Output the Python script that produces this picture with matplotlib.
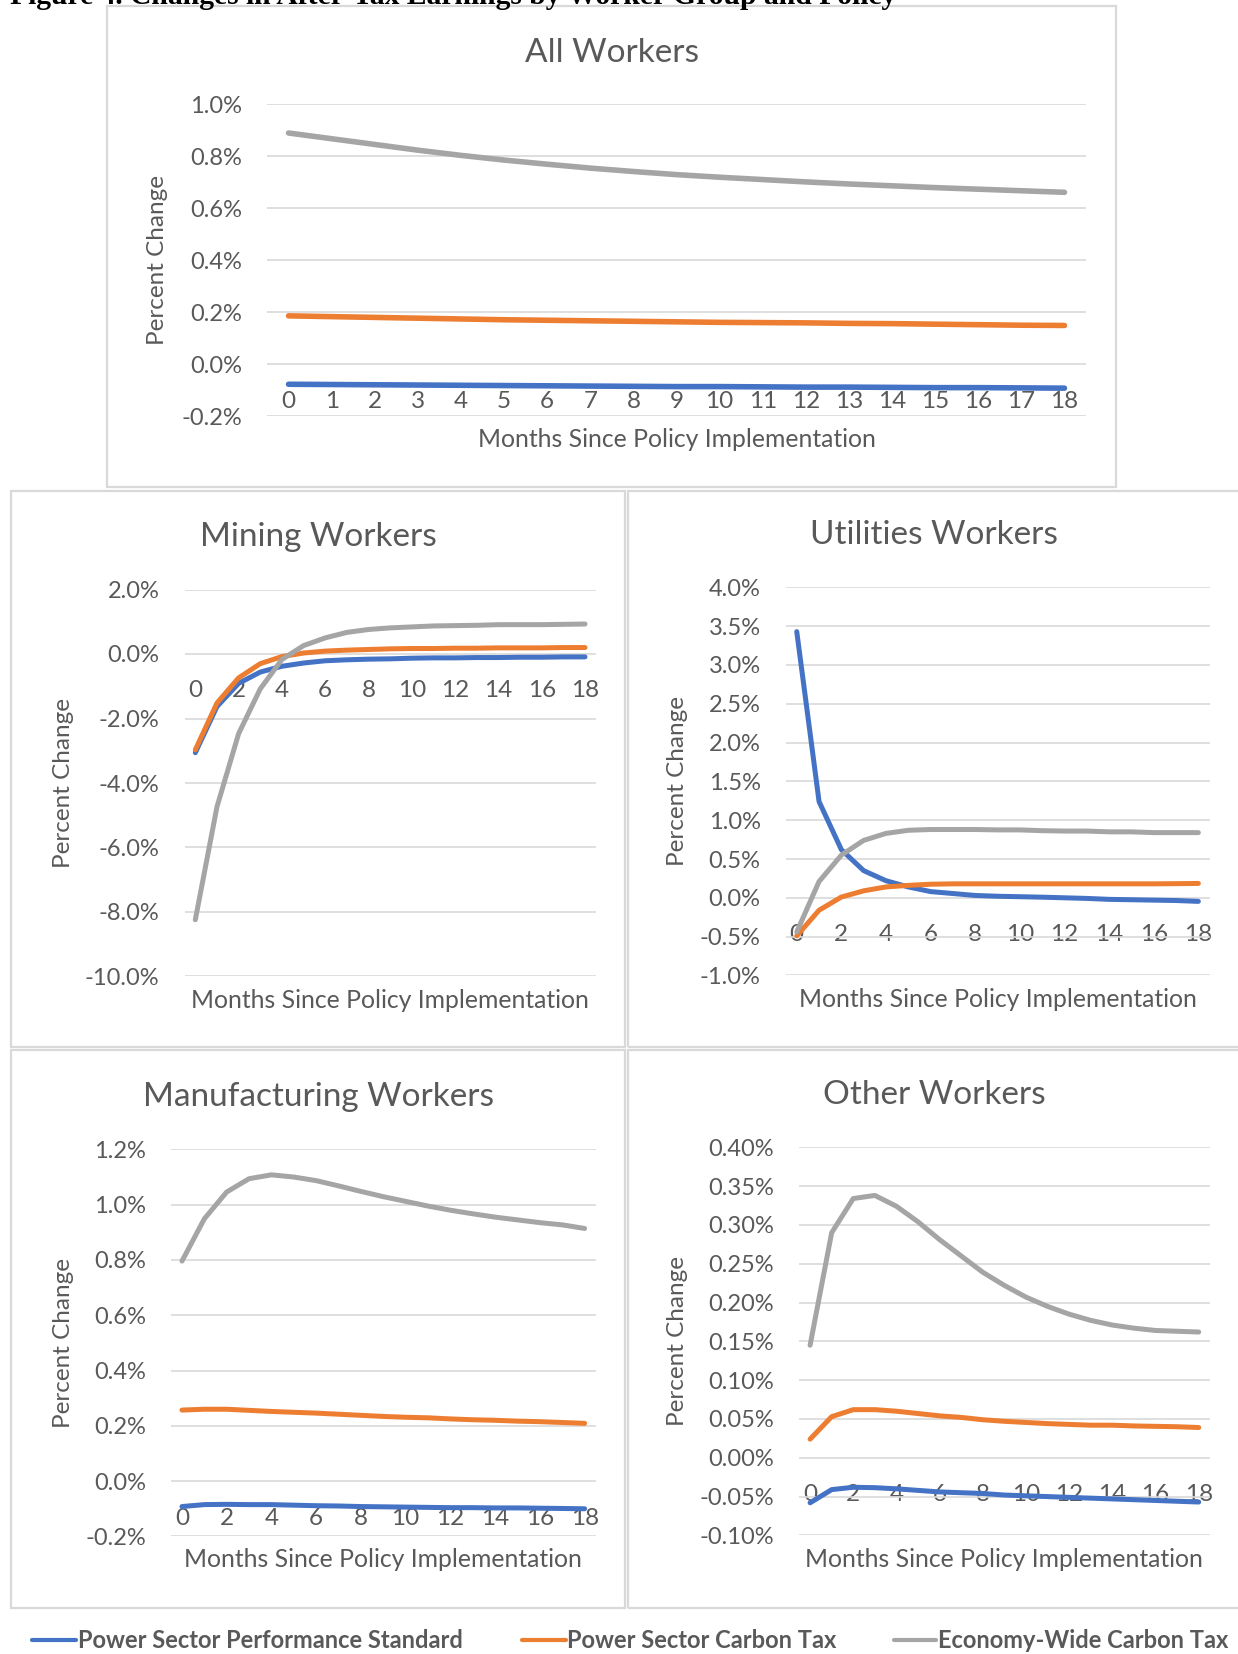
import matplotlib
matplotlib.use("Agg")
import matplotlib.pyplot as plt
from matplotlib.lines import Line2D
from matplotlib.patches import Rectangle
from matplotlib.ticker import FuncFormatter, FixedLocator

plt.rcParams['font.family'] = ['Lato', 'DejaVu Sans']

W, H = 1238, 1654

months = list(range(19))
series_names = ["Power Sector Performance Standard", "Power Sector Carbon Tax", "Economy-Wide Carbon Tax"]
colors = ["#4472C4", "#ED7D31", "#A5A5A5"]

# ---- data (percent change) ----
all_pps = [-0.076, -0.077, -0.078, -0.079, -0.080, -0.081, -0.082, -0.083, -0.084, -0.085,
           -0.085, -0.086, -0.087, -0.087, -0.088, -0.089, -0.089, -0.090, -0.091]
all_pct = [0.187, 0.184, 0.181, 0.178, 0.175, 0.172, 0.170, 0.168, 0.166, 0.164,
           0.162, 0.161, 0.160, 0.158, 0.157, 0.155, 0.153, 0.151, 0.150]
all_ewt = [0.890, 0.868, 0.846, 0.824, 0.804, 0.786, 0.770, 0.755, 0.742, 0.730,
           0.720, 0.711, 0.702, 0.694, 0.687, 0.680, 0.674, 0.668, 0.662]

mining_pps = [-3.06, -1.63, -0.91, -0.56, -0.38, -0.28, -0.21, -0.18, -0.16, -0.15,
              -0.13, -0.12, -0.12, -0.11, -0.11, -0.10, -0.10, -0.09, -0.09]
mining_pct = [-2.97, -1.52, -0.74, -0.30, -0.08, 0.03, 0.09, 0.12, 0.14, 0.16,
              0.17, 0.17, 0.18, 0.18, 0.19, 0.19, 0.19, 0.20, 0.20]
mining_ewt = [-8.24, -4.74, -2.47, -1.08, -0.17, 0.26, 0.50, 0.67, 0.76, 0.81,
              0.84, 0.87, 0.88, 0.89, 0.91, 0.91, 0.91, 0.92, 0.93]

util_pps = [3.43, 1.24, 0.62, 0.35, 0.22, 0.14, 0.08, 0.055, 0.03, 0.02,
            0.014, 0.008, 0.0, -0.008, -0.02, -0.025, -0.03, -0.035, -0.046]
util_pct = [-0.49, -0.16, 0.01, 0.09, 0.14, 0.16, 0.175, 0.18, 0.18, 0.18,
            0.18, 0.18, 0.18, 0.18, 0.18, 0.18, 0.18, 0.182, 0.185]
util_ewt = [-0.44, 0.21, 0.55, 0.74, 0.83, 0.87, 0.88, 0.88, 0.88, 0.875,
            0.875, 0.865, 0.86, 0.86, 0.85, 0.85, 0.84, 0.84, 0.84]

manu_pps = [-0.092, -0.085, -0.084, -0.085, -0.085, -0.087, -0.089, -0.090, -0.092, -0.093,
            -0.094, -0.095, -0.096, -0.096, -0.097, -0.097, -0.098, -0.099, -0.100]
manu_pct = [0.257, 0.260, 0.260, 0.256, 0.252, 0.249, 0.246, 0.242, 0.238, 0.234,
            0.231, 0.229, 0.225, 0.222, 0.220, 0.217, 0.215, 0.212, 0.209]
manu_ewt = [0.796, 0.949, 1.046, 1.094, 1.108, 1.100, 1.087, 1.068, 1.048, 1.029,
            1.012, 0.995, 0.980, 0.967, 0.955, 0.945, 0.935, 0.927, 0.914]

other_pps = [-0.058, -0.041, -0.038, -0.0385, -0.040, -0.042, -0.044, -0.045, -0.046, -0.048,
             -0.049, -0.050, -0.051, -0.052, -0.053, -0.054, -0.055, -0.056, -0.057]
other_pct = [0.024, 0.053, 0.062, 0.062, 0.060, 0.057, 0.054, 0.052, 0.049, 0.047,
             0.0455, 0.044, 0.043, 0.042, 0.042, 0.041, 0.0405, 0.040, 0.039]
other_ewt = [0.145, 0.290, 0.334, 0.338, 0.324, 0.304, 0.281, 0.260, 0.239, 0.222,
             0.207, 0.195, 0.185, 0.177, 0.171, 0.167, 0.164, 0.163, 0.162]

all_yticks = [-0.2, 0.0, 0.2, 0.4, 0.6, 0.8, 1.0]
mining_yticks = [-10, -8, -6, -4, -2, 0, 2]
util_yticks = [-1.0, -0.5, 0.0, 0.5, 1.0, 1.5, 2.0, 2.5, 3.0, 3.5, 4.0]
manu_yticks = [-0.2, 0.0, 0.2, 0.4, 0.6, 0.8, 1.0, 1.2]
other_yticks = [-0.10, -0.05, 0.00, 0.05, 0.10, 0.15, 0.20, 0.25, 0.30, 0.35, 0.40]

TXT = "#595959"
GRID = "#D9D9D9"

fig = plt.figure(figsize=(W / 100, H / 100), dpi=100)
fig.patch.set_facecolor("white")


def fx(px):
    return px / W


def fy(py):
    return 1 - py / H


def box(x0, y0, x1, y1):
    r = Rectangle((fx(x0), fy(y1)), fx(x1) - fx(x0), fy(y0) - fy(y1),
                  transform=fig.transFigure, facecolor="none", edgecolor=GRID, lw=1.6)
    fig.add_artist(r)


# panel borders
box(106.5, 6.5, 1115.5, 487)
box(10.5, 490.5, 625, 1047)
box(627.5, 490.5, 1250, 1047)
box(10.5, 1049.5, 625, 1608)
box(627.5, 1049.5, 1250, 1608)


def panel(rect_px, title, title_xy, data, yticks, fmt, xstep, ylabel_x, xlabel_y, lw):
    x0, y0, x1, y1 = rect_px
    ax = fig.add_axes([fx(x0), fy(y1), fx(x1) - fx(x0), fy(y0) - fy(y1)])
    for vals, c, name in zip(data, colors, series_names):
        ax.plot(months, vals, color=c, lw=lw, solid_capstyle="round",
                solid_joinstyle="round", label=name, zorder=3)
    ax.set_xlim(-0.5, 18.5)
    ax.set_ylim(yticks[0], yticks[-1])
    ax.yaxis.set_major_locator(FixedLocator(yticks))
    ax.yaxis.set_major_formatter(FuncFormatter(lambda v, p: fmt.format(v)))
    ax.xaxis.set_major_locator(FixedLocator(months[::xstep]))
    ax.grid(axis="y", color=GRID, lw=1.2, zorder=0)
    ax.set_axisbelow(True)
    for s in ["top", "right", "left"]:
        ax.spines[s].set_visible(False)
    ax.spines["bottom"].set_position(("data", 0))
    ax.spines["bottom"].set_visible(False)
    ax.tick_params(axis="y", length=0, pad=18, labelsize=17, labelcolor=TXT)
    ax.tick_params(axis="x", length=0, pad=19, labelsize=17.5, labelcolor=TXT)
    ax.set_facecolor("none")
    wpx = x1 - x0
    hpx = y1 - y0
    ax.text((ylabel_x - x0) / wpx, 0.5, "Percent Change", transform=ax.transAxes,
            rotation=90, ha="center", va="center", fontsize=17.5, color=TXT)
    ax.text(0.5, 1 - (xlabel_y - y0) / hpx, "Months Since Policy Implementation",
            transform=ax.transAxes, ha="center", va="center", fontsize=17.8, color=TXT)
    fig.text(fx(title_xy[0]), fy(title_xy[1]), title, ha="center", va="center",
             fontsize=24, color=TXT)
    return ax


panel((267, 104.4, 1086, 416.5), "All Workers", (611.6, 53.5),
      [all_pps, all_pct, all_ewt], all_yticks, "{:.1f}%", 1, 158, 439.5, 4.0)
panel((184.5, 589.5, 595.8, 976.5), "Mining Workers", (318.5, 537.5),
      [mining_pps, mining_pct, mining_ewt], mining_yticks, "{:.1f}%", 2, 63, 1000.5, 3.6)
panel((785.6, 587.4, 1209.5, 975.4), "Utilities Workers", (934.3, 535.5),
      [util_pps, util_pct, util_ewt], util_yticks, "{:.1f}%", 2, 678, 999.5, 3.6)
panel((170.8, 1149.4, 595.8, 1536.4), "Manufacturing Workers", (318.5, 1097.5),
      [manu_pps, manu_pct, manu_ewt], manu_yticks, "{:.1f}%", 2, 63, 1559.5, 3.6)
panel((799.3, 1147.3, 1209.5, 1535.4), "Other Workers", (934.3, 1094.5),
      [other_pps, other_pct, other_ewt], other_yticks, "{:.2f}%", 2, 678, 1559.5, 3.6)

# caption (cut at top of page)
fig.text(fx(10), fy(3.5), "Figure 4. Changes in After-Tax Earnings by Worker Group and Policy",
         ha="left", va="baseline", fontsize=21.3, fontweight="bold",
         family=["Liberation Serif", "DejaVu Serif"], color="black")

# legend
leg_y = 1640
leg_items = [(31.6, 75.9, 78), (522, 566, 567), (894, 936, 938.5)]
for (lx0, lx1, tx), c, name in zip(leg_items, colors, series_names):
    fig.add_artist(Line2D([fx(lx0), fx(lx1)], [fy(leg_y), fy(leg_y)], transform=fig.transFigure,
                          color=c, lw=3.0, solid_capstyle="round"))
    fig.text(fx(tx), fy(leg_y), name, ha="left", va="center", fontsize=17, fontweight="bold",
             color=TXT)

fig.savefig("out.png", dpi=100, facecolor="white")
